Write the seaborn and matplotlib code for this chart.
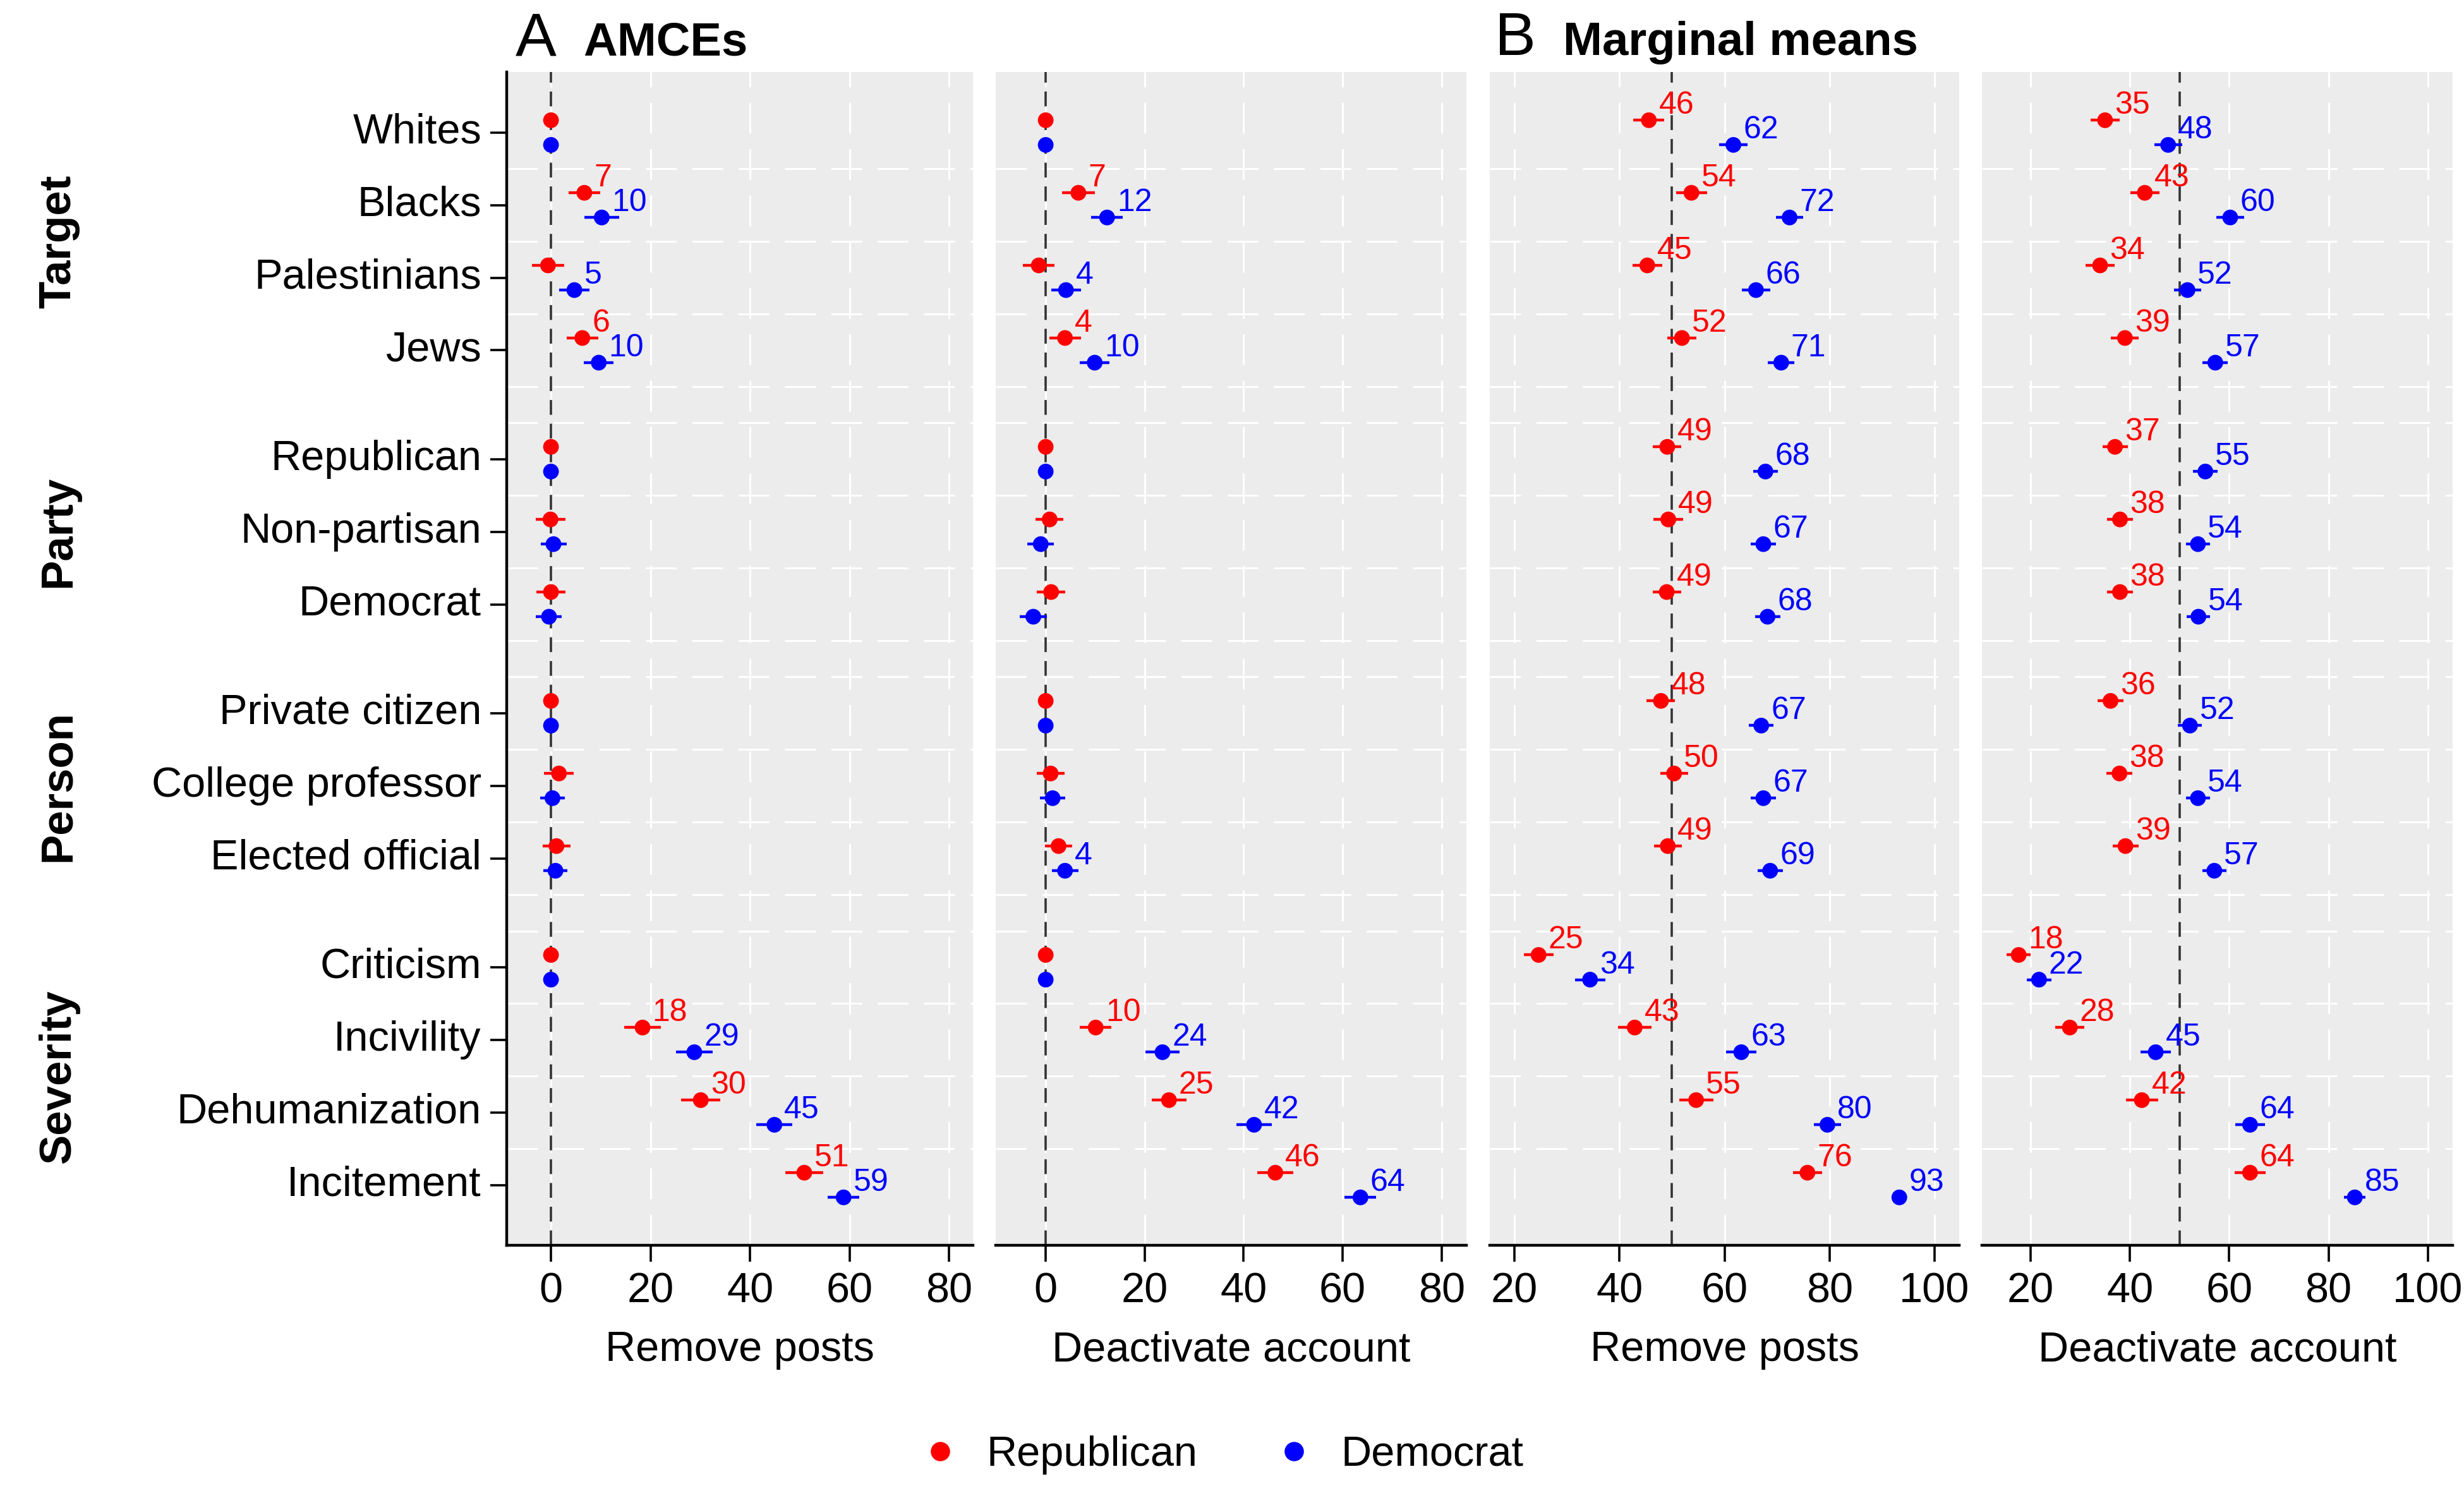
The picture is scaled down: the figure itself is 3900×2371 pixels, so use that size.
import numpy as np
import pandas as pd
import seaborn as sns
import matplotlib
matplotlib.use("Agg")
import matplotlib.pyplot as plt
from matplotlib.lines import Line2D
from matplotlib.transforms import blended_transform_factory

# attribute levels, grouped
groups = ["Target", "Party", "Person", "Severity"]
group_levels = [
    ["Whites", "Blacks", "Palestinians", "Jews"],
    ["Republican", "Non-partisan", "Democrat"],
    ["Private citizen", "College professor", "Elected official"],
    ["Criticism", "Incivility", "Dehumanization", "Incitement"],
]

# A: AMCEs, remove posts
amce_remove_rep = [0, 6.7, -0.6, 6.3, 0, -0.1, 0.0, 0, 1.6, 1.1, 0, 18.4, 30.1, 50.9]
amce_remove_dem = [0, 10.2, 4.7, 9.6, 0, 0.5, -0.4, 0, 0.3, 0.9, 0, 28.8, 44.9, 58.8]
amce_remove_rep_ci = [0, 3.2, 3.2, 3.2, 0, 3.0, 2.9, 0, 3.0, 2.8, 0, 3.7, 3.9, 3.8]
amce_remove_dem_ci = [0, 3.5, 3.0, 3.0, 0, 2.6, 2.6, 0, 2.5, 2.4, 0, 3.7, 3.6, 3.2]

# A: AMCEs, deactivate account
amce_deact_rep = [0, 6.6, -1.4, 3.9, 0, 0.8, 1.1, 0, 1.0, 2.6, 0, 10.1, 24.9, 46.4]
amce_deact_dem = [0, 12.4, 4.1, 9.9, 0, -1.0, -2.5, 0, 1.4, 3.9, 0, 23.6, 42.1, 63.6]
amce_deact_rep_ci = [0, 3.3, 3.2, 3.2, 0, 2.8, 2.9, 0, 2.8, 2.8, 0, 3.2, 3.5, 3.6]
amce_deact_dem_ci = [0, 3.2, 3.0, 3.0, 0, 2.7, 2.7, 0, 2.6, 2.7, 0, 3.5, 3.6, 3.2]

# B: marginal means, remove posts
mm_remove_rep = [45.6, 53.7, 45.3, 51.9, 49.1, 49.3, 49.0, 47.9, 50.4, 49.2, 24.6, 42.9, 54.6, 75.8]
mm_remove_dem = [61.7, 72.4, 66.0, 70.8, 67.8, 67.4, 68.2, 67.0, 67.4, 68.7, 34.4, 63.2, 79.6, 93.3]
mm_remove_rep_ci = [2.95, 2.95, 2.8, 2.8, 2.7, 2.8, 2.7, 2.7, 2.65, 2.65, 2.8, 3.2, 3.25, 2.8]
mm_remove_dem_ci = [2.7, 2.6, 2.7, 2.5, 2.35, 2.35, 2.4, 2.35, 2.35, 2.4, 2.9, 2.9, 2.55, 1.2]

# B: marginal means, deactivate account
mm_deact_rep = [35.0, 43.0, 34.0, 39.0, 37.0, 38.0, 38.0, 36.1, 37.9, 39.1, 17.6, 27.9, 42.4, 64.2]
mm_deact_dem = [47.7, 60.2, 51.6, 57.2, 55.2, 53.7, 53.8, 52.1, 53.7, 57.0, 21.7, 45.2, 64.2, 85.3]
mm_deact_rep_ci = [2.9, 2.9, 2.9, 2.8, 2.55, 2.6, 2.6, 2.6, 2.6, 2.6, 2.45, 2.9, 3.25, 3.1]
mm_deact_dem_ci = [2.8, 2.8, 2.75, 2.55, 2.45, 2.4, 2.4, 2.4, 2.4, 2.4, 2.45, 3.0, 2.95, 2.2]

panel_xlabels = ["Remove posts", "Deactivate account", "Remove posts", "Deactivate account"]
amce_ticks = [0, 20, 40, 60, 80]
mm_ticks = [20, 40, 60, 80, 100]

party_colors = {"Republican": "#FF0000", "Democrat": "#0000FF"}


def row_positions():
    pos, y = [], 0.0
    for lv in group_levels:
        for _ in lv:
            pos.append(y)
            y += 1
        y += 0.5
    return pos


levels = [l for lv in group_levels for l in lv]
ypos = row_positions()


def panel_frame(rep, dem, rep_ci, dem_ci, amce):
    rows = []
    for party, est, ci, shift in [("Republican", rep, rep_ci, -0.17), ("Democrat", dem, dem_ci, 0.17)]:
        for i, lev in enumerate(levels):
            lo, hi = est[i] - ci[i], est[i] + ci[i]
            sig = (lo > 0 or hi < 0) if amce else True
            rows.append(dict(level=lev, y=ypos[i] + shift, party=party, est=est[i],
                             lo=lo, hi=hi, ci=ci[i], label=str(int(round(est[i]))) if sig else ""))
    return pd.DataFrame(rows)


panels = [
    panel_frame(amce_remove_rep, amce_remove_dem, amce_remove_rep_ci, amce_remove_dem_ci, True),
    panel_frame(amce_deact_rep, amce_deact_dem, amce_deact_rep_ci, amce_deact_dem_ci, True),
    panel_frame(mm_remove_rep, mm_remove_dem, mm_remove_rep_ci, mm_remove_dem_ci, False),
    panel_frame(mm_deact_rep, mm_deact_dem, mm_deact_rep_ci, mm_deact_dem_ci, False),
]

sns.set_style("white")
plt.rcParams["font.family"] = ["Liberation Sans", "DejaVu Sans"]
plt.rcParams.update({"text.color": "black", "axes.labelcolor": "black",
                     "xtick.color": "black", "ytick.color": "black"})

W, H = 3900, 2371
fig = plt.figure(figsize=(W / 200, H / 200), dpi=200)

# panel boxes in pixels: left, right
boxes = [(802, 1540), (1576, 2321), (2358, 3101), (3137, 3882)]
top_px, bot_px = 114, 1971
xlims = [(-8.9, 84.8), (-10.1, 85.0), (15.3, 104.7), (10.2, 105.0)]
refs = [0, 0, 50, 50]

# horizontal grid: boundaries between rows (not outer edges)
bounds = sorted(set([p - 0.5 for p in ypos] + [p + 0.5 for p in ypos]))
bounds = [b for b in bounds if b > ypos[0] - 0.4 and b < ypos[-1] + 0.4]

axes = []
for k, (x0, x1) in enumerate(boxes):
    ax = fig.add_axes([x0 / W, 1 - bot_px / H, (x1 - x0) / W, (bot_px - top_px) / H])
    axes.append(ax)
    df = panels[k]
    ax.set_facecolor("#EBECEB")
    ax.set_xlim(*xlims[k])
    ax.set_ylim(ypos[-1] + 0.83, ypos[0] - 0.834)

    ax.set_xticks(amce_ticks if k < 2 else mm_ticks)
    ax.set_yticks(ypos)
    ax.set_yticks(bounds, minor=True)
    ax.xaxis.grid(True, which="major", color="white", lw=1.1, ls=(0, (16, 8)))
    ax.yaxis.grid(True, which="minor", color="white", lw=1.1, ls=(0, (16, 8)))
    ax.yaxis.grid(False, which="major")
    ax.set_axisbelow(True)

    ax.axvline(refs[k], color="#333333", lw=1.3, ls=(0, (6.5, 3.9)), zorder=1.6)

    bars = df[df["ci"] > 0]
    for party, sub in bars.groupby("party"):
        ax.hlines(sub["y"], sub["lo"], sub["hi"], color=party_colors[party], lw=1.6, zorder=2.5)

    sns.scatterplot(data=df, x="est", y="y", hue="party", palette=party_colors,
                    s=80, linewidth=0, ax=ax, legend=False, zorder=3)

    for _, r in df.iterrows():
        if r["label"]:
            ax.annotate(r["label"], (r["est"], r["y"]), xytext=(5.6, 3.6),
                        textcoords="offset points", ha="left", va="baseline",
                        color=party_colors[r["party"]], fontsize=18, zorder=4)

    for s in ["top", "right"]:
        ax.spines[s].set_visible(False)
    ax.spines["bottom"].set_color("black")
    ax.spines["bottom"].set_linewidth(1.6)
    ax.spines["left"].set_visible(k == 0)
    ax.spines["left"].set_color("black")
    ax.spines["left"].set_linewidth(1.6)

    ax.tick_params(axis="x", which="major", bottom=True, length=9.4, width=1.3,
                   pad=6.0, labelsize=24, color="black", labelcolor="black")
    ax.tick_params(axis="y", which="minor", length=0, left=False)
    if k == 0:
        ax.set_yticklabels(levels, va="center")
        ax.tick_params(axis="y", which="major", left=True, length=9.4, width=1.3,
                       pad=5, labelsize=24, color="black", labelcolor="black")
    else:
        ax.tick_params(axis="y", which="major", left=False, labelleft=False)
    ax.set_xlabel(panel_xlabels[k], fontsize=24, labelpad=11, color="black")
    ax.set_ylabel("")

# group labels on the left
tr = blended_transform_factory(fig.transFigure, axes[0].transData)
start = 0
for g, lv in zip(groups, group_levels):
    mid = (ypos[start] + ypos[start + len(lv) - 1]) / 2
    fig.text(93 / W, mid, g, transform=tr, rotation=90, ha="center", va="center",
             fontsize=25.5, fontweight="bold", color="black")
    start += len(lv)

# panel titles
base = 1 - 87 / H
fig.text(816 / W, base, "A", fontsize=35, va="baseline", ha="left", color="black")
fig.text(923 / W, base, "AMCEs", fontsize=26.8, fontweight="bold", va="baseline", ha="left", color="black")
fig.text(2366 / W, base, "B", fontsize=35, va="baseline", ha="left", color="black")
fig.text(2474 / W, base, "Marginal means", fontsize=26.8, fontweight="bold", va="baseline",
         ha="left", color="black")

handles = [Line2D([], [], marker="o", ls="", color=party_colors[p], markersize=11,
                  markeredgewidth=0) for p in ["Republican", "Democrat"]]
fig.legend(handles, ["Republican", "Democrat"], loc="center",
           bbox_to_anchor=(0.4977, 1 - 2303 / H), ncol=2, frameon=False, fontsize=24,
           handlelength=0.5, handletextpad=0.86, columnspacing=2.04)

fig.savefig("out.png", dpi=200)
